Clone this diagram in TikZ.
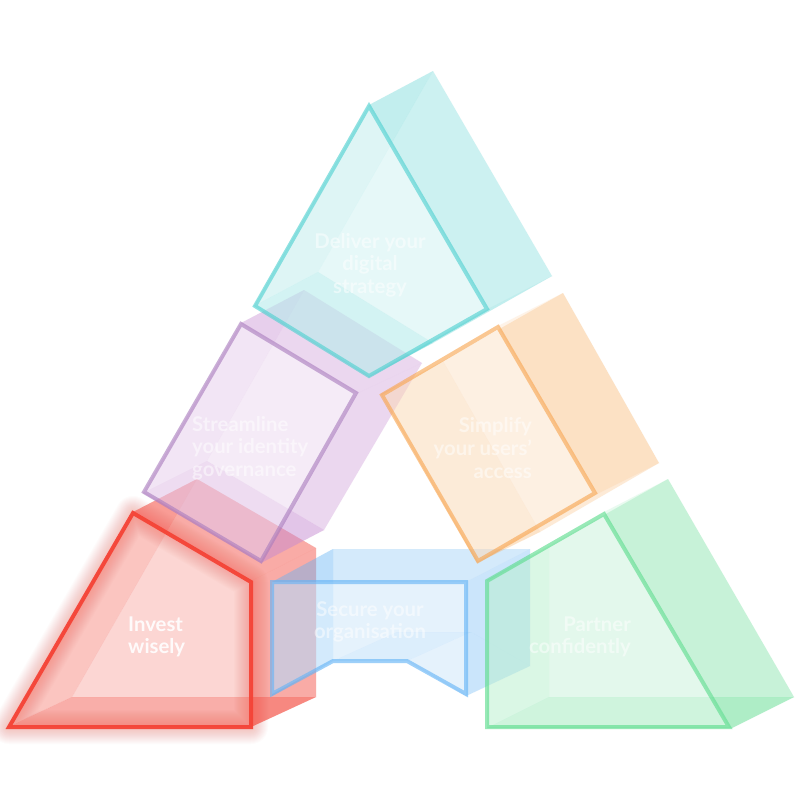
\documentclass[tikz,border=0pt]{standalone}
\usepackage{fontspec}
\setmainfont{Lato}
\usepackage{xcolor}
\usepackage{tikz}
\usetikzlibrary{positioning}

\definecolor{boxred}{RGB}{244,67,54}
\definecolor{boxblue}{RGB}{100,180,246}
\definecolor{boxgreen}{RGB}{90,220,140}
\definecolor{boxpurple}{RGB}{198,138,210}
\definecolor{boxorange}{RGB}{248,165,80}
\definecolor{boxteal}{RGB}{104,215,215}
\definecolor{linepurple}{RGB}{170,125,190}
\definecolor{lineteal}{RGB}{77,208,208}

\tikzset{
  backface/.style={fill=boxfill,fill opacity=.23},
  farface/.style={fill=boxfill,fill opacity=.13},
  sideface/.style={fill=boxfill,fill opacity=.31},
  nearface/.style={fill=boxfill,fill opacity=.41},
  frontface/.style={fill=white,fill opacity=.3},
  frontline/.style={draw=boxline,draw opacity=.62,line width=4pt,miter limit=10},
  boxlabel/.style={inner sep=0pt,text=white,text opacity=.5,font=\fontsize{20.3}{22.7}\selectfont\bfseries}
}

\begin{document}
\begin{tikzpicture}[x=1pt,y=-1pt]
  \fill[white] (0,0) rectangle (800,800);
  \useasboundingbox (0,0) rectangle (800,800);

  % Invest wisely
  \begin{scope}[
      backface/.style={fill=boxfill,fill opacity=.25},
      farface/.style={fill=boxfill,fill opacity=.25},
      sideface/.style={fill=boxfill,fill opacity=.36},
      nearface/.style={fill=boxfill,fill opacity=.5},
      frontface/.style={fill=white,fill opacity=.15},
      frontline/.style={draw=boxline,draw opacity=.95,line width=4pt,miter limit=10}]
    \colorlet{boxfill}{boxred}
    \colorlet{boxline}{boxred}
    \fill[backface] (197,479) -- (316,548) -- (316,697) -- (72,697) -- cycle;
    \fill[farface] (251,581) -- (316,548) -- (316,697) -- (251,727) -- cycle;
    \fill[farface] (133,512) -- (197,479) -- (316,548) -- (251,581) -- cycle;
    \fill[sideface] (8,727) -- (72,697) -- (197,479) -- (133,512) -- cycle;
    \fill[nearface] (8,727) -- (72,697) -- (316,697) -- (251,727) -- cycle;
    \fill[frontface] (133,513) -- (251,582) -- (251,727) -- (9,727) -- cycle;
    \foreach \w in {6,8,...,34}
      \draw[boxred,opacity=.018,line width=\w pt,line join=round] (133,513) -- (251,582) -- (251,727) -- (9,727) -- cycle;
    \draw[frontline] (133,513) -- (251,582) -- (251,727) -- (9,727) -- cycle;
    \node[boxlabel,text opacity=.9,align=left,anchor=west] (invest) at (128,637) {Invest\\wisely};
  \end{scope}

  % Secure your organisation
  \begin{scope}
    \colorlet{boxfill}{boxblue}
    \colorlet{boxline}{boxblue}
    \fill[backface] (333,549) -- (530,549) -- (530,666) -- (471,632) -- (397,632) -- (333,661) -- cycle;
    \fill[farface] (466,582) -- (530,549) -- (530,666) -- (466,696) -- cycle;
    \fill[backface] (466,696) -- (530,666) -- (471,632) -- (407,661) -- cycle;
    \fill[farface,fill opacity=.05] (272,582) -- (333,549) -- (530,549) -- (466,582) -- cycle;
    \fill[sideface,fill opacity=.4] (272,582) -- (333,549) -- (333,661) -- (272,696) -- cycle;
    \fill[sideface] (333,661) -- (407,661) -- (471,632) -- (397,632) -- cycle;
    \fill[frontface] (272,582) -- (466,582) -- (466,694) -- (407,661) -- (333,661) -- (272,694) -- cycle;
    \draw[frontline] (272,582) -- (466,582) -- (466,694) -- (407,661) -- (333,661) -- (272,694) -- cycle;
    \node[boxlabel,align=center] (secure) at (370,622) {Secure your\\organisation};
  \end{scope}

  % Partner confidently
  \begin{scope}
    \colorlet{boxfill}{boxgreen}
    \colorlet{boxline}{boxgreen}
    \fill[backface] (668,479) -- (794,697) -- (549,697) -- (549,546) -- cycle;
    \fill[farface] (604,512) -- (668,479) -- (794,697) -- (732,728) -- cycle;
    \fill[sideface] (487,580) -- (549,546) -- (549,697) -- (487,728) -- cycle;
    \fill[nearface] (487,728) -- (549,697) -- (794,697) -- (732,728) -- cycle;
    \fill[frontface] (604,514) -- (729,727) -- (487,727) -- (487,581) -- cycle;
    \draw[frontline] (604,514) -- (729,727) -- (487,727) -- (487,581) -- cycle;
    \node[boxlabel,align=right,anchor=east] (partner) at (631,637) {Partner\\confidently};
  \end{scope}

  % Streamline your identity governance
  \begin{scope}
    \colorlet{boxfill}{boxpurple}
    \colorlet{boxline}{linepurple}
    \fill[backface] (304,290) -- (422,363) -- (324,530) -- (207,461) -- cycle;
    \fill[farface] (358,393) -- (422,363) -- (324,530) -- (261,563) -- cycle;
    \fill[farface] (241,323) -- (304,290) -- (422,363) -- (358,393) -- cycle;
    \fill[sideface] (143,493) -- (207,461) -- (304,290) -- (241,323) -- cycle;
    \fill[nearface] (143,493) -- (207,461) -- (324,530) -- (261,563) -- cycle;
    \fill[frontface] (241,324) -- (356,393) -- (261,561) -- (144,492) -- cycle;
    \draw[frontline] (241,324) -- (356,393) -- (261,561) -- (144,492) -- cycle;
    \node[boxlabel,align=left,anchor=west] (streamline) at (192,448) {Streamline\\your identity\\governance};
  \end{scope}

  % Simplify your users' access
  \begin{scope}
    \colorlet{boxfill}{boxorange}
    \colorlet{boxline}{boxorange}
    \fill[backface] (563,293) -- (659,463) -- (540,532) -- (443,361) -- cycle;
    \fill[farface] (498,326) -- (563,293) -- (659,463) -- (597,494) -- cycle;
    \fill[sideface] (381,394) -- (443,361) -- (540,532) -- (477,563) -- cycle;
    \fill[frontface] (498,327) -- (595,493) -- (478,561) -- (382,395) -- cycle;
    \draw[frontline] (498,327) -- (595,493) -- (478,561) -- (382,395) -- cycle;
    \node[boxlabel,align=right,anchor=east] (simplify) at (532,448) {Simplify\\your users'\\access};
  \end{scope}

  % Deliver your digital strategy
  \begin{scope}
    \colorlet{boxfill}{boxteal}
    \colorlet{boxline}{lineteal}
    \fill[backface] (433,71) -- (552,276) -- (433,343) -- (318,272) -- cycle;
    \fill[farface] (369,105) -- (433,71) -- (552,276) -- (488,309) -- cycle;
    \fill[backface] (369,377) -- (433,343) -- (552,276) -- (488,309) -- cycle;
    \fill[sideface] (254,306) -- (318,272) -- (433,71) -- (369,105) -- cycle;
    \fill[nearface] (254,306) -- (318,272) -- (433,343) -- (369,377) -- cycle;
    \fill[frontface] (369,106) -- (487,309) -- (369,376) -- (255,306) -- cycle;
    \draw[frontline] (369,106) -- (487,309) -- (369,376) -- (255,306) -- cycle;
    \node[boxlabel,align=center] (deliver) at (370,265) {Deliver your\\digital\\strategy};
  \end{scope}
\end{tikzpicture}
\end{document}
